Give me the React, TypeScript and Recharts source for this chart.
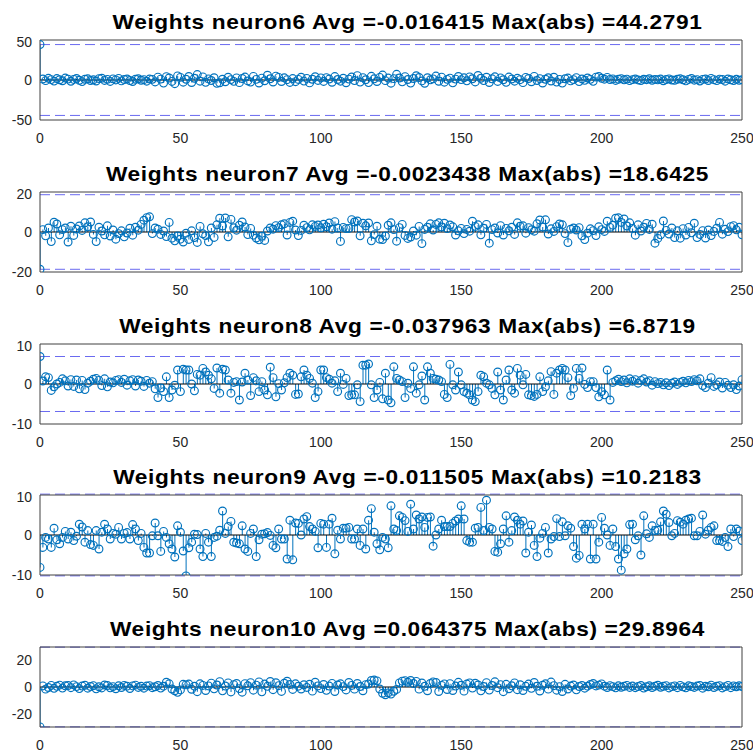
import { Bar, ComposedChart, ReferenceLine, Scatter, XAxis, YAxis } from 'recharts';

// weights of each neuron, index 0..250
const neuron6 = [
  44.2791,
  1.2, -0.8, 2.1, 0.5, -1.4, 1.8, 0.3, -0.9, 2.4, 1.1,
  -1.6, 0.7, 1.9, -0.4, -2.0, 0.9, 1.5, -0.6, 0.2, -1.3,
  1.7, 2.2, -0.5, 0.8, -1.8, 1.4, 0.1, 2.0, -1.1, 0.6,
  1.3, -0.7, -1.9, 0.9, 1.6, -0.3, 0.4, -1.5, 1.2, 0.8,
  -2.4, 3.6, 1.1, -3.9, 4.2, 2.5, -1.8, -4.6, 5.1, 3.3,
  -2.7, 0.9, 4.4, -3.1, 2.2, 6.8, -1.5, 3.9, -2.9, 1.4,
  -0.6, 2.8, -4.2, -3.5, 1.0, -2.2, 3.4, 0.5, -1.7, 2.6,
  -3.3, 1.9, 3.7, -1.2, -2.6, 4.5, 0.8, -3.8, 2.3, -0.9,
  5.9, 1.6, -2.5, 4.8, 3.2, -1.9, 2.7, 0.4, -3.0, 1.8,
  -2.1, 0.7, 3.5, -1.4, 2.0, -3.6, 0.9, 4.1, -0.5, 2.6,
  -1.8, 3.0, 1.2, -2.8, 4.3, 0.6, -1.5, 2.2, -3.4, 1.1,
  3.8, -0.7, 5.4, -2.6, 2.9, 0.3, -3.2, 4.6, 1.5, -1.9,
  3.3, 6.2, -0.8, 2.4, -4.0, 1.7, 7.1, 2.5, -2.3, 4.2,
  0.6, -3.9, 1.9, 5.3, 3.1, -1.2, -4.1, 2.8, 0.2, 1.4,
  4.9, -1.6, 3.6, -2.7, 0.8, 2.3, -3.5, 1.1, 4.4, 0.5,
  2.7, -1.0, 3.9, 1.6, -2.4, 5.6, 2.2, -0.7, 3.4, -3.1,
  1.5, 4.0, -1.8, 2.6, 0.3, -2.9, 3.7, 1.2, -1.5, 2.1,
  0.4, -3.3, 3.2, 1.9, -2.2, 4.5, -0.6, 1.7, -3.8, 0.9,
  2.8, -1.3, 3.5, -2.6, 0.7, -3.9, 1.6, 2.4, -1.1, 0.5,
  3.0, -2.0, 1.3, -0.4, 2.5, 0.8, -1.7, 3.6, 4.4, 2.1,
  1.0, 3.2, 0.6, 1.4, -0.5, 0.9, 1.7, 0.2, 1.1, -0.8,
  0.5, 1.3, 0.1, -0.6, 1.0, 0.4, 1.6, -0.3, 0.8, 0.2,
  1.2, -0.9, 0.6, 1.4, 0.0, -0.4, 0.9, 1.5, 0.3, -1.1,
  0.7, 1.9, -0.2, 0.5, -1.3, 0.8, 1.2, -0.6, 2.0, 0.4,
  -0.8, 1.1, 0.6, -1.5, 1.3, 0.2, -0.7, 0.9, -0.4, 0.3,
];

const neuron7 = [
  -18.6425,
  1.2, -1.9, 2.0, -4.8, 4.9, 4.0, -1.4, 1.2, 2.0, -5.0,
  2.9, -1.7, 1.5, 3.0, 0.8, 4.6, 2.6, 5.0, -1.2, -4.8,
  2.4, 0.5, -1.4, 3.1, -2.0, 1.0, -3.6, -0.8, 0.6, -2.4,
  -0.5, 1.9, -1.6, 2.4, 0.9, 3.8, 5.9, 7.2, 7.6, -0.8,
  2.0, 1.4, -1.2, 0.5, -2.3, 4.8, -3.1, -4.4, -2.0, -3.6,
  -5.0, -0.6, -3.7, 0.6, -2.8, -5.2, 2.8, -0.9, -1.8, -4.9,
  2.0, -2.7, 3.6, 6.9, 3.0, 7.0, -2.4, 6.3, 2.1, 0.9,
  3.4, 5.0, 2.5, -1.3, 1.8, -1.6, -3.0, -3.9, -2.1, -4.2,
  0.5, 2.0, 1.4, 3.2, 2.2, 3.6, 4.1, -1.5, 4.8, 5.4,
  1.0, -1.8, 0.8, 3.4, 2.2, 1.1, 3.6, 2.8, 3.5, 2.1,
  3.9, 2.6, 4.5, 1.4, 5.2, 2.0, -4.7, 2.3, 1.7, 1.8,
  6.2, 5.0, 5.5, -1.9, 4.4, 3.1, 4.5, -4.4, -1.3, 2.9,
  -3.6, -3.8, -2.0, 3.4, 4.6, 1.2, -4.6, 2.2, 3.8, -1.7,
  -3.2, -2.5, 0.5, -1.6, 2.8, -5.8, 1.3, 2.4, 4.1, 1.0,
  3.8, 4.6, 2.5, 4.4, 1.7, 3.5, 2.6, -1.5, 0.6, 1.8,
  -0.8, 1.3, 0.4, 5.4, 2.8, 3.6, -1.4, 1.9, 3.8, -5.6,
  1.2, 2.0, -0.5, 3.2, -1.5, 1.8, 0.6, 2.4, -1.2, 4.6,
  2.9, 3.1, -0.6, 2.2, 1.1, 0.4, 4.1, 6.0, 2.5, 6.1,
  -1.0, 1.6, 0.3, 2.7, 4.0, 3.6, -0.8, -5.3, 1.4, 2.0,
  1.0, 2.2, -1.9, -3.8, -0.6, 1.6, 0.7, -1.8, 2.6, 1.2,
  0.3, 5.4, 2.3, 3.4, 6.9, 7.1, 4.8, 6.5, 3.0, 4.6,
  1.8, -1.6, 3.6, 0.5, 2.4, 4.3, 1.3, 3.9, -5.6, -3.2,
  -1.4, 5.5, 0.8, -1.0, 2.0, -2.8, 0.6, -3.1, 1.7, -1.5,
  2.3, -0.4, 4.4, -2.8, -1.2, 0.7, -3.0, 1.0, -1.8, 0.3,
  1.9, 4.8, -1.1, 1.4, 0.2, 2.7, 3.2, 1.1, 2.4, -1.4,
];

const neuron8 = [
  6.8719,
  0.75, 1.8, 1.6, -1.6, -0.7, 0.0, 0.4, 1.3, 0.8, -0.5,
  1.1, -0.6, 1.0, -1.2, 0.9, -1.4, 0.2, 0.7, 1.2, 1.4,
  0.9, -0.4, 1.3, -0.7, 0.5, 0.3, 0.9, 1.1, 0.4, 1.2,
  -0.3, 0.8, 1.1, -0.5, 1.0, 0.7, -0.6, 0.9, 0.2, 0.6,
  -1.2, -3.4, -1.0, -1.9, 1.8, -3.4, -1.5, -0.3, 3.5, -1.9,
  3.7, 3.5, 3.5, 0.0, -1.7, 2.4, 2.2, 3.9, 3.0, 2.2,
  1.3, -1.1, 4.0, -2.3, 3.7, 3.5, 1.0, -2.3, 0.4, 0.6,
  -4.0, 0.5, 2.7, 1.0, -2.9, 1.6, 0.8, -1.9, 0.6, -1.5,
  -2.7, 4.2, 1.6, -3.2, 0.1, -1.5, 0.3, 1.6, 2.7, 2.2,
  -2.6, -2.5, 1.8, 3.5, 2.2, 1.4, 0.2, -3.4, -1.9, 3.5,
  3.5, 1.6, 1.2, 0.2, 0.8, -1.9, 2.7, -0.1, 1.4, -2.9,
  -2.7, -2.7, -0.2, -4.4, 4.7, 4.7, 5.0, -0.2, -3.4, -1.5,
  0.4, -3.7, 2.7, -4.0, -4.7, 4.3, 1.4, 1.0, 0.6, -3.4,
  0.2, -1.1, 4.3, -2.3, -0.2, 2.0, -4.0, 4.3, 2.7, 1.4,
  1.2, 1.0, 0.6, -2.6, -3.4, 4.9, -0.2, -1.5, 3.0, -0.2,
  -1.9, -2.3, -2.7, -4.0, -4.4, -1.9, 2.2, 1.8, 0.2, -0.2,
  -1.1, -2.7, 3.0, -1.5, -4.0, 1.0, 3.5, -1.5, -2.3, 3.9,
  2.2, -0.2, 2.4, -2.7, -2.9, -3.1, -2.6, 1.8, -1.9, -0.7,
  0.8, 3.1, -2.6, 2.7, 3.5, 3.9, 3.5, 1.6, -2.9, -1.1,
  3.9, 1.4, 4.0, -0.1, -0.9, 0.6, 0.6, -0.9, -3.2, -1.9,
  -2.7, 3.5, -4.0, 0.4, 0.8, 1.2, 0.6, 1.0, 0.3, 1.3,
  0.7, 1.1, 0.2, 0.9, 1.3, 0.5, 0.8, -0.3, 0.6, 0.1,
  0.4, -0.2, 0.3, -0.4, 0.2, 0.5, -0.1, 0.4, 0.7, 0.3,
  0.9, 0.6, 1.1, 0.8, 1.3, -0.4, -0.9, 0.2, 1.6, -0.6,
  -0.2, 0.5, -1.0, 0.4, -0.3, -0.9, -0.2, -1.4, -0.5, 1.1,
];

const neuron9 = [
  -8.1,
  -3.1, -0.6, -1.0, -3.1, 1.7, -1.2, -2.2, -0.6, 0.9, -1.0,
  0.7, -1.4, -0.3, 2.7, 2.0, -1.8, 1.1, -2.4, -2.6, 1.1,
  -3.5, 0.7, 2.7, 1.5, -1.0, 0.4, 0.2, 1.9, -1.0, 0.4,
  0.6, -1.0, 2.6, 1.5, -1.4, 0.4, -3.1, -4.5, -4.5, -0.2,
  3.0, -0.2, -4.1, 0.9, -0.6, -2.2, -3.5, -5.5, 2.3, 0.7,
  -4.0, -10.2183, -3.2, -1.8, 0.2, 0.1, -3.5, -5.4, 0.4, -1.8,
  -5.4, -0.6, -0.3, 1.2, 6.0, 0.4, 2.1, 3.4, -1.8, -2.0,
  -2.2, 2.3, -3.5, -4.1, 0.4, 1.5, -5.4, -1.2, 0.2, 0.3,
  0.6, -0.1, -2.6, -3.2, 1.5, -1.0, -1.0, -6.0, 3.7, -6.2,
  3.0, 2.9, 0.0, 4.0, 4.6, 2.1, 1.5, 0.9, -3.2, 2.9,
  2.7, -3.1, 2.7, 4.2, -4.7, 1.2, -1.0, 1.7, 1.7, 1.9,
  -1.0, -1.0, 1.5, -2.6, 1.5, -3.5, 3.7, 6.6, 0.7, -2.2,
  -3.7, -0.6, -1.0, -3.2, 7.3, 1.5, 1.1, 4.8, 4.4, 3.6,
  0.9, 7.7, 1.5, 5.0, 4.0, 4.5, 1.9, 4.4, 4.5, -2.8,
  0.0, 1.5, 3.7, 2.1, 2.1, 2.1, 2.9, 3.5, 4.0, 7.3,
  4.0, -1.4, -1.8, -1.8, 1.7, 1.9, 6.9, 1.1, 8.7, 1.9,
  1.5, -4.1, -4.3, -2.2, 1.5, 4.8, -1.8, 1.1, 4.5, 3.7,
  2.7, 3.5, -4.5, 0.7, 2.5, -2.6, -5.4, -0.8, 0.4, 1.9,
  -4.5, -1.0, -0.4, 4.1, -0.4, 3.3, -0.2, 2.3, 1.7, -2.9,
  -5.8, -5.1, 2.7, 1.5, 2.7, -6.0, 2.7, -6.0, -1.8, 4.4,
  1.7, 0.0, -2.6, 1.5, -2.9, -6.0, -8.8, -4.7, -3.5, 2.6,
  2.7, -1.2, -0.2, -5.0, 4.8, 0.3, -0.6, 2.3, 1.1, 1.2,
  3.3, 6.0, 5.2, 3.1, -0.2, 0.4, 3.6, 3.2, 2.7, 3.7,
  4.0, 4.2, -0.2, -0.2, 0.9, 5.0, 0.2, 1.2, 1.9, 2.3,
  -1.4, -1.4, -1.6, -0.6, -2.9, 1.5, -0.4, 1.5, 1.0, -1.4,
];

const neuron10 = [
  -29.8964,
  0.8, -1.6, -0.4, 1.2, -1.0, 0.5, 1.4, -0.8, 0.9, 1.1,
  -0.5, 1.6, 0.3, -1.2, 0.7, 1.3, -0.9, 0.4, 1.0, -1.4,
  0.2, -0.7, 1.5, 1.1, -0.6, 0.3, -1.3, 0.9, -0.4, 1.2,
  0.6, -1.1, 0.8, 1.4, -0.3, 0.5, -0.9, 0.7, 1.0, -0.5,
  0.2, 1.1, -0.8, 0.6, 3.6, 2.4, -1.5, -2.8, -4.0, -2.2,
  2.0, 1.6, 2.2, -1.7, 0.6, -3.5, 2.4, 1.2, -2.6, 0.8,
  2.9, -1.4, 1.5, 4.0, -2.9, 0.7, 3.1, -3.7, 1.8, 2.6,
  -1.2, -3.9, 2.5, 0.9, 3.3, -2.4, 1.4, 3.8, -3.6, 2.2,
  0.5, 4.1, -2.0, 3.2, 1.0, -3.3, 2.8, 4.3, 1.9, -1.8,
  2.4, 0.6, -1.5, 1.7, -0.3, 2.1, -3.1, 3.6, 0.8, -1.2,
  1.9, -2.5, 0.7, 2.7, -3.4, 1.5, 2.4, 0.3, -2.2, 3.4,
  1.2, -1.6, 2.6, 0.4, -2.8, 1.8, 2.2, 4.9, 5.2, 4.6,
  -1.5, -4.7, -5.8, -4.4, -5.3, -3.2, -1.8, 3.1, 4.4, 4.8,
  3.5, 4.9, 2.6, 4.2, -1.6, 3.0, 0.5, -2.8, 2.6, 3.8,
  3.4, -3.4, 1.2, 2.3, -1.9, 2.5, -2.6, 0.7, 3.5, 1.3,
  -3.1, 2.2, 3.1, -0.8, 2.8, 1.5, -2.9, 0.4, 3.3, -2.3,
  1.1, 3.9, -0.5, 1.8, -3.5, 2.0, -1.3, 0.9, 3.1, -2.0,
  1.7, -2.6, 0.5, 2.2, -1.0, 3.4, 0.6, -3.0, 1.3, 2.4,
  -1.6, 3.7, 1.0, -2.4, 0.3, -3.4, 2.0, -1.5, 0.7, 1.5,
  -2.1, 0.4, 1.1, -0.9, 0.6, 1.9, 2.6, 0.8, 1.4, 2.3,
  0.6, -0.4, 1.0, 0.3, -0.6, 0.9, -0.2, 0.5, 1.2, -0.3,
  0.7, -0.5, 0.4, 1.1, -0.8, 0.2, 0.9, -0.4, 0.6, 1.3,
  -0.2, 0.5, 1.0, -0.7, 0.3, 0.8, -0.5, 1.2, 0.1, -0.6,
  0.9, 0.4, -0.3, 0.7, 1.1, -0.9, 0.5, 0.2, 1.4, -0.4,
  0.6, 1.0, -0.7, 0.3, 1.2, -0.5, 0.8, 0.2, 0.9, 0.4,
];

const titles = [
  'Weights neuron6 Avg =-0.016415 Max(abs) =44.2791',
  'Weights neuron7 Avg =-0.0023438 Max(abs) =18.6425',
  'Weights neuron8 Avg =-0.037963 Max(abs) =6.8719',
  'Weights neuron9 Avg =-0.011505 Max(abs) =10.2183',
  'Weights neuron10 Avg =0.064375 Max(abs) =29.8964',
];
const maxAbs = [44.2791, 18.6425, 6.8719, 10.2183, 29.8964];
const yLimits = [50, 20, 10, 10, 30];
const yTicks = [
  [-50, 0, 50],
  [-20, 0, 20],
  [-10, 0, 10],
  [-10, 0, 10],
  [-20, 0, 20],
];
const xTicks = [0, 50, 100, 150, 200, 250];
const series = [neuron6, neuron7, neuron8, neuron9, neuron10];

const BLUE = '#0072BD';
const AXIS = '#404040';
const DASH = '#6a6af0';
const FONT = '"Liberation Sans", Arial, Helvetica, sans-serif';
const PLOT_TOPS = [40, 192, 344, 495, 647];
const PLOT_H = 80;
const MT = 6;
const XH = 32;
const TITLE_CENTER = 407;

// open circle marker of the stem plot
const Circle = (props: any) => {
  const { cx, cy } = props;
  if (cx == null || cy == null) return null;
  return <circle cx={cx} cy={cy} r={3.9} fill="none" stroke={BLUE} strokeWidth={1.15} />;
};

function StemPanel({ idx }: { idx: number }) {
  const values = series[idx];
  const data = values.map((v, i) => ({ x: i, v }));
  const lim = yLimits[idx];
  const top = PLOT_TOPS[idx];
  const tickStyle = { fill: '#262626', fontSize: 14, fontFamily: FONT };
  return (
    <>
      <div
        style={{
          position: 'absolute',
          left: TITLE_CENTER - 376.5,
          width: 753,
          top: top - 11 - 17.8,
          textAlign: 'center',
          whiteSpace: 'nowrap',
          fontFamily: FONT,
          fontWeight: 'bold',
          fontSize: 21,
          lineHeight: '21px',
          letterSpacing: 0.6,
          color: '#000',
          transform: 'scaleX(1.08)',
          transformOrigin: '50% 50%',
        }}
      >
        {titles[idx]}
      </div>
      <div style={{ position: 'absolute', left: 0, top: top - MT }}>
        <ComposedChart
          width={753}
          height={MT + PLOT_H + XH}
          data={data}
          margin={{ top: MT, right: 11, bottom: 0, left: 0 }}
        >
          <XAxis
            dataKey="x"
            type="number"
            domain={[0, 250]}
            ticks={xTicks}
            allowDataOverflow
            height={XH}
            tickLine={false}
            tickSize={0}
            tickMargin={13}
            axisLine={{ stroke: AXIS }}
            tick={tickStyle}
          />
          <XAxis xAxisId="bm" dataKey="x" type="number" domain={[0, 250]} ticks={xTicks} mirror
            tick={false} tickSize={5} axisLine={false} tickLine={{ stroke: AXIS }} />
          <XAxis xAxisId="t" dataKey="x" type="number" domain={[0, 250]} ticks={xTicks} orientation="top" mirror
            tick={false} tickSize={5} axisLine={{ stroke: AXIS }} tickLine={{ stroke: AXIS }} />
          <YAxis
            type="number"
            domain={[-lim, lim]}
            ticks={yTicks[idx]}
            allowDataOverflow
            width={40}
            tickLine={false}
            tickSize={0}
            tickMargin={8}
            axisLine={{ stroke: AXIS }}
            tick={tickStyle}
          />
          <YAxis yAxisId="lm" type="number" domain={[-lim, lim]} ticks={yTicks[idx]} mirror
            tick={false} tickSize={5} axisLine={false} tickLine={{ stroke: AXIS }} />
          <YAxis yAxisId="r" type="number" domain={[-lim, lim]} ticks={yTicks[idx]} orientation="right" mirror
            tick={false} tickSize={5} axisLine={{ stroke: AXIS }} tickLine={{ stroke: AXIS }} />
          <ReferenceLine y={maxAbs[idx]} stroke={DASH} strokeDasharray="10 5" ifOverflow="visible" />
          <ReferenceLine y={-maxAbs[idx]} stroke={DASH} strokeDasharray="10 5" ifOverflow="visible" />
          <ReferenceLine y={0} stroke="#000" strokeWidth={1} />
          <Bar dataKey="v" barSize={1} fill={BLUE} isAnimationActive={false} />
          <Scatter dataKey="v" shape={Circle} isAnimationActive={false} />
        </ComposedChart>
      </div>
    </>
  );
}

export default function App() {
  return (
    <div style={{ position: 'absolute', left: 0, top: 0, width: 753, height: 753, background: '#fff' }}>
      {series.map((_, i) => (
        <StemPanel key={i} idx={i} />
      ))}
    </div>
  );
}
